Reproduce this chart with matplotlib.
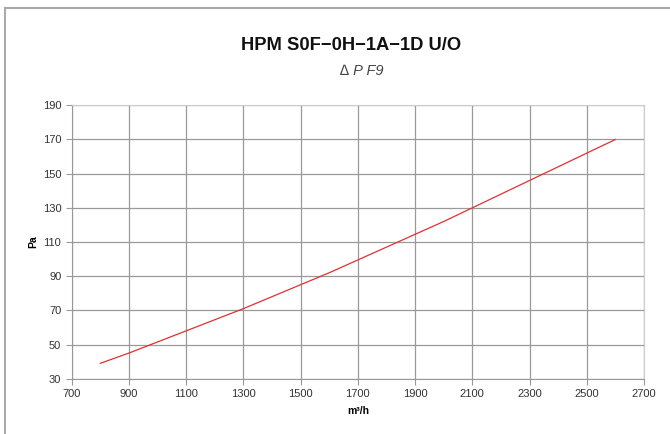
import matplotlib.pyplot as plt
from matplotlib.lines import Line2D

plt.rcParams['font.family'] = ['Liberation Sans', 'DejaVu Sans']

# airflow (m3/h) and pressure drop (Pa)
flow = [800, 900, 1000, 1100, 1200, 1300, 1400, 1500, 1600, 1700,
        1800, 1900, 2000, 2100, 2200, 2300, 2400, 2500, 2600]
dp = [39, 45, 51.5, 58, 64.5, 71, 78, 85, 92, 99.5,
      107, 114.5, 122, 130, 138, 146, 154, 162, 170]

xticks = list(range(700, 2701, 200))
yticks = list(range(30, 191, 20))

fig = plt.figure(figsize=(6.7, 4.34), dpi=100)
W, H = 670, 434
ax = fig.add_axes([71.7 / W, 1 - 378.7 / H, (644 - 71.7) / W, (378.7 - 105.3) / H])

ax.plot(flow, dp, color="#e03030", lw=0.9)
ax.set_xlim(700, 2700)
ax.set_ylim(30, 190)
ax.set_xticks(xticks)
ax.set_yticks(yticks)
ax.grid(True, color="#9a9a9a", lw=0.9)
ax.set_axisbelow(True)
ax.tick_params(labelsize=8, colors="#333333", length=4, width=0.8)
ax.tick_params(axis="both", color="#999999")
for s in ["left", "bottom"]:
    ax.spines[s].set_color("#999999")
for s in ["top", "right"]:
    ax.spines[s].set_color("#cccccc")

ax.set_xlabel("m³/h", fontsize=7.5, fontweight="bold", labelpad=5)
ax.set_ylabel("Pa", fontsize=7.5, fontweight="bold", labelpad=3)

fig.text(351 / W, 1 - 46 / H, "HPM S0F\u22120H\u22121A\u22121D U/O", ha="center", va="center",
         fontsize=13.2, fontweight="bold", color="#111111")
fig.text(362 / W, 1 - 71 / H, "\u2206 P F9", ha="center", va="center",
         fontsize=10.5, style="italic", color="#444444")

# outer frame of the original sheet
fig.add_artist(Line2D([5 / W, 1], [1 - 7.5 / H, 1 - 7.5 / H], color="#aaaaaa", lw=1.5))
fig.add_artist(Line2D([5 / W, 5 / W], [0, 1 - 7.5 / H], color="#aaaaaa", lw=1.5))

fig.savefig("out.png", dpi=100)
